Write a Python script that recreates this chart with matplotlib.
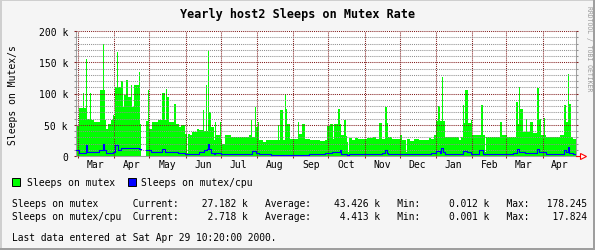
import matplotlib
matplotlib.use('Agg')
import matplotlib.pyplot as plt
import matplotlib.dates as mdates
from matplotlib.patches import Rectangle
from matplotlib.ticker import MultipleLocator, FuncFormatter, NullFormatter
import numpy as np
from datetime import datetime, timedelta

# ---------------- data ----------------
start_date = datetime(1999, 2, 27)
last_update = datetime(2000, 4, 29, 10, 20)
axis_start = datetime(1999, 2, 27, 6)
axis_end = datetime(2000, 4, 29, 14, 0)

NaN = float('nan')

# Sleeps on mutex (k/s), step values starting at day offsets
mutex_days = [0, 3, 6, 7, 9, 10, 12, 13, 16, 21, 23, 24, 25, 26, 28, 30, 32, 33, 34, 35,
              36, 39, 40, 41, 43, 45, 47, 48, 50, 54, 55, 56, 60, 62, 63, 65, 70, 74, 76, 77,
              78, 80, 84, 86, 88, 90, 93, 95, 96, 98, 99, 104, 105, 109, 110, 111, 112, 113, 114, 116,
              118, 119, 120, 123, 124, 125, 128, 133, 148, 150, 151, 153, 154, 156, 157, 160, 163, 173, 174, 175,
              177, 179, 180, 181, 183, 186, 190, 191, 193, 196, 200, 204, 209, 213, 215, 217, 220, 221, 224, 226,
              227, 229, 231, 232, 233, 234, 236, 239, 241, 249, 254, 257, 259, 262, 264, 266, 267, 270, 277, 279,
              282, 283, 286, 289, 293, 298, 302, 304, 306, 308, 310, 311, 313, 314, 316, 328, 329, 331, 332, 333,
              335, 338, 339, 346, 348, 350, 351, 363, 364, 369, 376, 378, 379, 380, 382, 385, 386, 388, 391, 394,
              396, 398, 400, 401, 402, 414, 417, 419, 421, 422, 423, 425]
mutex_k = [48, 77, 101, 77, 155, 60, 101, 57, 54, 105, 180, 105, 57, 44, 52, 57, 65, 62, 110, 167,
           110, 120, 78, 97, 121, 94, 113, 78, 113, 134, 52, NaN, 56, 105, 44, 54, 57, 101, 57, 108,
           94, 54, 84, 52, 46, 49, 36, 5, 36, 33, 38, 44, 42, 73, 40, 113, 40, 168, 70, 46,
           25, 54, 33, 54, 25, 20, 33, 30, 33, 57, 30, 78, 46, 54, 25, 22, 25, 49, 25, 73,
           25, 100, 76, 51, 28, 27, 54, 36, 51, 28, 26, 25, 24, 25, 48, 51, 28, 51, 76, 51,
           33, 58, 32, 22, 6, 29, 25, 29, 28, 29, 31, 28, 53, 28, 78, 53, 30, 28, 33, 25,
           6, 28, 24, 28, 26, 25, 29, 28, 33, 56, 80, 56, 127, 56, 31, 26, 31, 81, 53, 105,
           53, 57, 33, 81, 33, 6, 31, 54, 33, 30, 86, 52, 111, 76, 38, 60, 38, 54, 37, 109,
           60, 33, 61, 33, 31, 33, 81, 54, 131, 84, 31, 27]

# Sleeps on mutex/cpu (k/s)
cpu_days = [0, 3, 9, 10, 20, 23, 24, 26, 32, 34, 36, 39, 54, 56, 60, 64, 74, 76, 84, 87,
            93, 105, 110, 112, 113, 114, 116, 118, 119, 124, 128, 151, 154, 157, 167, 199, 209, 213, 219, 226,
            227, 232, 234, 239, 262, 264, 266, 267, 304, 308, 311, 312, 314, 316, 331, 334, 338, 345, 348, 351,
            374, 377, 379, 384, 394, 396, 399, 402, 417, 419, 421, 422, 425]
cpu_k = [9, 5, 17, 7, 9, 19, 10, 5, 7, 17, 9, 13, 12, NaN, 10, 7, 12, 7, 6, 5,
         4, 6, 9, 12, 19, 12, 5, 3, 5, 3, 4, 8, 5, 4, 1, 4, 3, 5, 6, 9,
         4, 2, 4, 3, 5, 9, 5, 3, 5, 8, 5, 13, 6, 4, 8, 6, 4, 9, 4, 3,
         5, 11, 6, 5, 11, 7, 6, 3, 9, 6, 14, 5, 2.718]

title = 'Yearly host2 Sleeps on Mutex Rate'
ylabel = 'Sleeps on Mutex/s'
legend_labels = ['Sleeps on mutex', 'Sleeps on mutex/cpu']
stats = {
    'Sleeps on mutex': [27.182, 43.426, 0.012, 178.245],
    'Sleeps on mutex/cpu': [2.718, 4.413, 0.001, 17.824],
}
footer = 'Last data entered at Sat Apr 29 10:20:00 2000.'

# ---------------- style ----------------
W, H = 595, 251
BACK = '#F5F5F5'
GREEN = '#00FF00'
BLUE = '#0000FF'
GRIDC = '#8F8F8F'
MGRIDC = '#821E1E'
MONO = 'DejaVu Sans Mono'

plt.rcParams['font.family'] = [MONO]
plt.rcParams['font.size'] = 7

fig = plt.figure(figsize=(W / 100, H / 100), dpi=100, facecolor=BACK)


def fx(px):
    return px / W


def fy(py):
    return 1 - py / H


ax = fig.add_axes([fx(76), fy(157), fx(500), 125 / H])
ax.set_facecolor('white')


def series(days, vals):
    x = [start_date + timedelta(days=d) for d in days] + [last_update]
    y = np.array(list(vals) + [vals[-1]], dtype=float) * 1000
    return x, y


mx, my = series(mutex_days, mutex_k)
cx, cy = series(cpu_days, cpu_k)

ax.fill_between(mx, 0, np.nan_to_num(my), step='post', color=GREEN, lw=0, zorder=1)
ax.plot(cx, cy, drawstyle='steps-post', color=BLUE, lw=0.8, zorder=3)

ax.set_xlim(axis_start, axis_end)
ax.set_ylim(0, 200000)

ax.yaxis.set_major_locator(MultipleLocator(50000))
ax.yaxis.set_minor_locator(MultipleLocator(10000))
ax.yaxis.set_major_formatter(FuncFormatter(lambda v, p: '0' if v == 0 else f'{int(round(v / 1000))} k'))
ax.xaxis.set_major_locator(mdates.MonthLocator())
ax.xaxis.set_major_formatter(NullFormatter())
ax.xaxis.set_minor_locator(mdates.MonthLocator(bymonthday=16))
ax.xaxis.set_minor_formatter(mdates.DateFormatter('%b'))

ax.set_axisbelow(False)
ax.grid(which='major', axis='both', color=MGRIDC, linestyle=(0, (1, 1)), lw=0.75)
ax.grid(which='minor', axis='y', color=GRIDC, linestyle=(0, (1, 1)), lw=0.75)

ax.tick_params(axis='y', which='major', left=True, right=True, length=1.6, width=0.75,
               color=MGRIDC, pad=4.2, labelsize=7)
ax.tick_params(axis='y', which='minor', left=True, right=True, length=1.6, width=0.75, color=GRIDC)
ax.tick_params(axis='x', which='major', bottom=True, length=1.6, width=0.75, color=MGRIDC)
ax.tick_params(axis='x', which='minor', bottom=False, length=0, pad=2.5, labelsize=7)

for s in ['left', 'bottom', 'right']:
    ax.spines[s].set_color('#A0A0A0')
    ax.spines[s].set_linewidth(0.75)
ax.spines['top'].set_visible(False)

# red arrow at the end of the time axis
ax.plot([1.0, 1.008], [0, 0], transform=ax.transAxes, color='red', lw=0.8, clip_on=False, zorder=4)
ax.plot([1.014], [0], transform=ax.transAxes, marker='>', ms=5, mfc='white', mec='red',
        mew=0.8, clip_on=False, zorder=4)

# titles
fig.text(fx(297.5), fy(15), title, ha='center', va='center', fontsize=8.5, fontweight='bold')
fig.text(fx(12.5), fy(95), ylabel, ha='center', va='center', rotation=90, fontsize=7)
fig.text(fx(588.5), fy(48.5), 'RRDTOOL / TOBI OETIKER', ha='center', va='center',
         rotation=270, fontsize=4.7, color='#9A9A9A')

# legend
box_x = [12.3, 127.7]
text_x = [26.7, 141]
colors = [GREEN, BLUE]
for bx, tx, c, lab in zip(box_x, text_x, colors, legend_labels):
    fig.add_artist(Rectangle((fx(bx), fy(187.3)), fx(8), 8 / H, transform=fig.transFigure,
                             facecolor=c, edgecolor='black', lw=0.7))
    fig.text(fx(tx), fy(186.5), lab, ha='left', va='baseline', fontsize=7)

# statistics (the trailing unit after Max falls beyond the image edge in the original)
for (name, vals), base in zip(stats.items(), [207, 220.5]):
    cur, avg, mn, mx_ = vals
    line = (f'{name:<21}Current:{cur:10.3f} k   Average:{avg:10.3f} k   '
            f'Min:{mn:10.3f} k   Max:{mx_:10.3f}')
    fig.text(fx(12), fy(base), line, ha='left', va='baseline', fontsize=6.93)

fig.text(fx(12), fy(241), footer, ha='left', va='baseline', fontsize=6.93)

# 3D frame
fig.add_artist(Rectangle((0, fy(2)), 1, 2 / H, transform=fig.transFigure, facecolor='#CFCFCF', lw=0))
fig.add_artist(Rectangle((0, 0), fx(2), 1, transform=fig.transFigure, facecolor='#CFCFCF', lw=0))
fig.add_artist(Rectangle((0, 0), 1, 2 / H, transform=fig.transFigure, facecolor='#9E9E9E', lw=0))
fig.add_artist(Rectangle((fx(593), 0), fx(2), 1, transform=fig.transFigure, facecolor='#9E9E9E', lw=0))

fig.savefig('out.png', dpi=100, facecolor=BACK)
